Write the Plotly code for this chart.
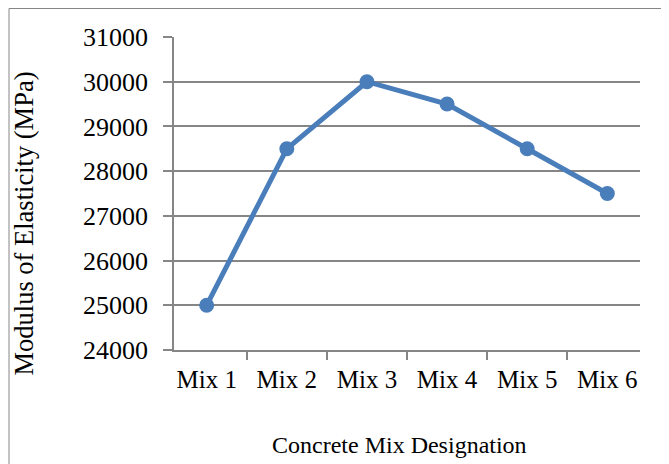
import plotly.graph_objects as go

categories = ["Mix 1", "Mix 2", "Mix 3", "Mix 4", "Mix 5", "Mix 6"]
modulus = [25000, 28500, 30000, 29500, 28500, 27500]
y_ticks = [24000, 25000, 26000, 27000, 28000, 29000, 30000, 31000]
y_tick_labels = [str(v) for v in y_ticks]

# page body has an 8px margin, so the figure is shifted by 8px
W, H = 661, 456
L, R, T, B = 166, 29, 29, 114
pw, ph = W - L - R, H - T - B
OFF = 8

font = "Liberation Serif, Times New Roman, serif"
gray = "#868686"

def px_x(x_abs):
    return (x_abs - OFF - L) / pw

def px_y(y_abs):
    return (T + ph - (y_abs - OFF)) / ph

fig = go.Figure(go.Scatter(
    x=categories, y=modulus, mode="lines+markers",
    line=dict(color="#4A7EBB", width=5),
    marker=dict(color="#4A7EBB", size=15),
))

fig.update_layout(
    width=W, height=H,
    margin=dict(l=L, r=R, t=T, b=B),
    paper_bgcolor="white", plot_bgcolor="white",
    showlegend=False,
    font=dict(family=font, color="black"),
    xaxis=dict(
        type="category", tickson="boundaries", ticks="outside", ticklen=8,
        tickcolor=gray, tickwidth=1.5, showline=True, linecolor=gray, linewidth=1.5,
        showgrid=False, tickfont=dict(size=25, family=font), ticklabelstandoff=6,
    ),
    yaxis=dict(
        range=[24000, 31000], tickvals=y_ticks, ticktext=y_tick_labels, ticks="outside", ticklen=9,
        tickcolor=gray, tickwidth=1.5, showline=True, linecolor=gray, linewidth=1.5,
        showgrid=True, gridcolor=gray, gridwidth=1.5, zeroline=False,
        tickfont=dict(size=26, family=font), ticklabelstandoff=10,
    ),
    annotations=[
        dict(text="Concrete Mix Designation", xref="paper", yref="paper",
             x=px_x(399.5), y=px_y(445), xanchor="center", yanchor="middle",
             showarrow=False, font=dict(size=24, family=font, color="black")),
        dict(text="Modulus of Elasticity (MPa)", xref="paper", yref="paper",
             x=px_x(23), y=px_y(223.5), xanchor="center", yanchor="middle", textangle=-90,
             showarrow=False, font=dict(size=26.5, family=font, color="black")),
    ],
    shapes=[dict(
        type="rect", xref="paper", yref="paper",
        x0=(1 - L) / pw, x1=(660 - L) / pw,
        y0=(T + ph - 480) / ph, y1=(T + ph - 0.5) / ph,
        line=dict(color=gray, width=1), layer="below",
    )],
)

fig.write_html("out.html")
